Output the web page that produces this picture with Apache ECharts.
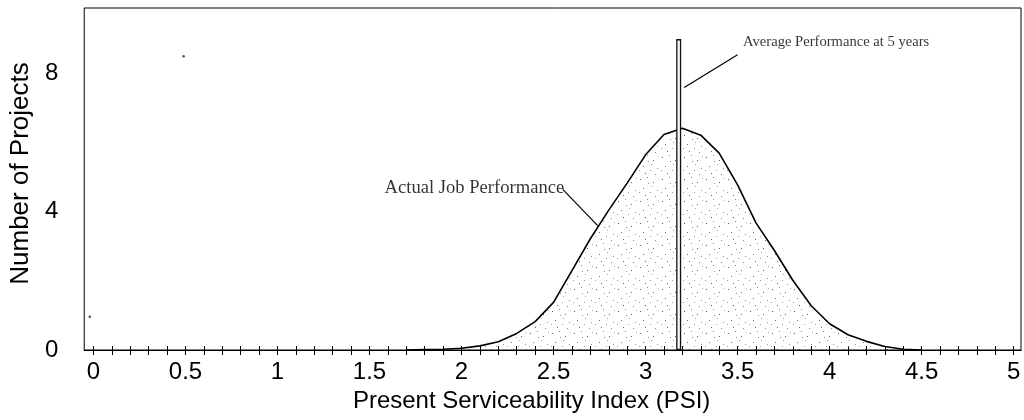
<!DOCTYPE html>
<html>
<head>
<meta charset="utf-8">
<script src="https://cdn.jsdelivr.net/npm/echarts@6/dist/echarts.min.js"></script>
<style>
  html, body { margin: 0; padding: 0; background: #fff; }
  #chart { width: 1024px; height: 420px; }
</style>
</head>
<body>
<div id="chart"></div>
<script>
// PSI values along the distribution curve and number of projects at each
const psi = [1.7, 1.8, 1.9, 2.0, 2.1, 2.2, 2.3, 2.4, 2.5, 2.6, 2.7, 2.8, 2.9, 3.0, 3.1, 3.2,
  3.3, 3.4, 3.5, 3.6, 3.7, 3.8, 3.9, 4.0, 4.1, 4.2, 4.3, 4.4, 4.5]
const projects = [0, 0.01, 0.02, 0.05, 0.12, 0.24, 0.48, 0.82, 1.38, 2.3, 3.22, 4.05, 4.83, 5.65, 6.24, 6.42,
  6.22, 5.7, 4.78, 3.68, 2.88, 2.02, 1.28, 0.76, 0.44, 0.25, 0.1, 0.02, 0]

// average performance at 5 years
const avgPsi = 3.18
const avgHeight = 9

const xTickLabels = [0, 0.5, 1, 1.5, 2, 2.5, 3, 3.5, 4, 4.5, 5]
const yTickLabels = [0, 4, 8]
const xMinorTicks = []
for (let i = 0; i <= 50; i++) xMinorTicks.push(+(i * 0.1).toFixed(1))

// annotation anchors, in data units
const avgNote = { text: 'Average Performance at 5 years', at: [3.53, 8.9], leader: [[3.21, 7.6], [3.5, 8.55]] }
const actualNote = { text: 'Actual Job Performance', at: [2.07, 4.68], leader: [[2.55, 4.65], [2.74, 3.6]] }
const specks = [[0.49, 8.5], [-0.02, 0.96]]

// stipple texture for the area under the curve
function makeStipple() {
  const c = document.createElement('canvas')
  c.width = 22
  c.height = 22
  const ctx = c.getContext('2d')
  const dots = [[2, 3, '#111'], [9, 1, '#555'], [15, 6, '#222'], [19, 14, '#666'], [5, 12, '#333'],
    [12, 16, '#777'], [7, 19, '#222'], [17, 20, '#555'], [13, 10, '#888'], [1, 16, '#777'], [20, 2, '#999'],
    [10, 7, '#666']]
  dots.forEach(([x, y, col]) => {
    ctx.fillStyle = col
    ctx.fillRect(x, y, 1, 1)
  })
  return c
}

const sans = '"Liberation Sans", Arial, Helvetica, sans-serif'
const serif = '"Liberation Serif", "Times New Roman", serif'

const chart = echarts.init(document.getElementById('chart'))

const xBase = {
  type: 'value',
  min: -0.05,
  max: 5.04,
  gridIndex: 0,
  position: 'bottom',
  offset: 0,
  splitLine: { show: false },
  axisLine: { show: true, onZero: false, lineStyle: { color: '#000', width: 1 } },
}

chart.setOption({
  animation: false,
  grid: {
    left: 82,
    right: 3,
    top: 8,
    bottom: 70,
    show: true,
    borderColor: '#000',
    borderWidth: 1,
  },
  xAxis: [
    {
      ...xBase,
      name: 'Present Serviceability Index (PSI)',
      nameLocation: 'middle',
      nameGap: 38,
      nameTextStyle: { fontFamily: sans, fontSize: 24, color: '#000', padding: [0, 42, 0, 0] },
      axisTick: { show: true, customValues: xMinorTicks, length: 5, inside: false, lineStyle: { color: '#000' } },
      axisLabel: {
        customValues: xTickLabels,
        margin: 10,
        fontFamily: sans,
        fontSize: 24,
        color: '#000',
      },
    },
    {
      ...xBase,
      axisTick: { show: true, customValues: xMinorTicks, length: 4, inside: true, lineStyle: { color: '#000' } },
      axisLabel: { show: false },
    },
  ],
  yAxis: {
    type: 'value',
    min: 0,
    max: 9.9,
    name: 'Number of Projects',
    nameLocation: 'middle',
    nameGap: 47,
    nameTextStyle: { fontFamily: sans, fontSize: 26, color: '#000', padding: [0, 0, 0, 11] },
    axisLine: { show: false, onZero: false },
    axisTick: { show: false },
    splitLine: { show: false },
    axisLabel: {
      customValues: yTickLabels,
      margin: 26,
      fontFamily: sans,
      fontSize: 24,
      color: '#000',
    },
  },
  series: [
    {
      name: 'Actual Job Performance',
      type: 'line',
      data: psi.map((x, i) => [x, projects[i]]),
      symbol: 'none',
      smooth: false,
      lineStyle: { color: '#000', width: 1.6 },
      areaStyle: { color: { image: makeStipple(), repeat: 'repeat' }, origin: 'start' },
      z: 2,
    },
    {
      name: 'Average Performance at 5 years',
      type: 'bar',
      data: [[avgPsi, avgHeight]],
      barWidth: 5,
      itemStyle: { color: '#fafafa', borderColor: '#111', borderWidth: 1.3 },
      z: 4,
    },
    {
      type: 'line',
      data: avgNote.leader,
      symbol: 'none',
      lineStyle: { color: '#000', width: 1.2 },
      z: 5,
    },
    {
      type: 'line',
      data: actualNote.leader,
      symbol: 'none',
      lineStyle: { color: '#000', width: 1.2 },
      z: 5,
    },
    {
      type: 'scatter',
      symbolSize: 0,
      data: [
        { value: avgNote.at, label: { formatter: avgNote.text, position: 'right', distance: 0, fontSize: 14.6 } },
        { value: actualNote.at, label: { formatter: actualNote.text, position: 'inside', fontSize: 18.6 } },
      ],
      label: { show: true, fontFamily: serif, color: '#000' },
      z: 6,
    },
    {
      type: 'scatter',
      data: specks,
      symbolSize: 2.5,
      itemStyle: { color: '#222' },
      z: 6,
    },
  ],
})
</script>
</body>
</html>
